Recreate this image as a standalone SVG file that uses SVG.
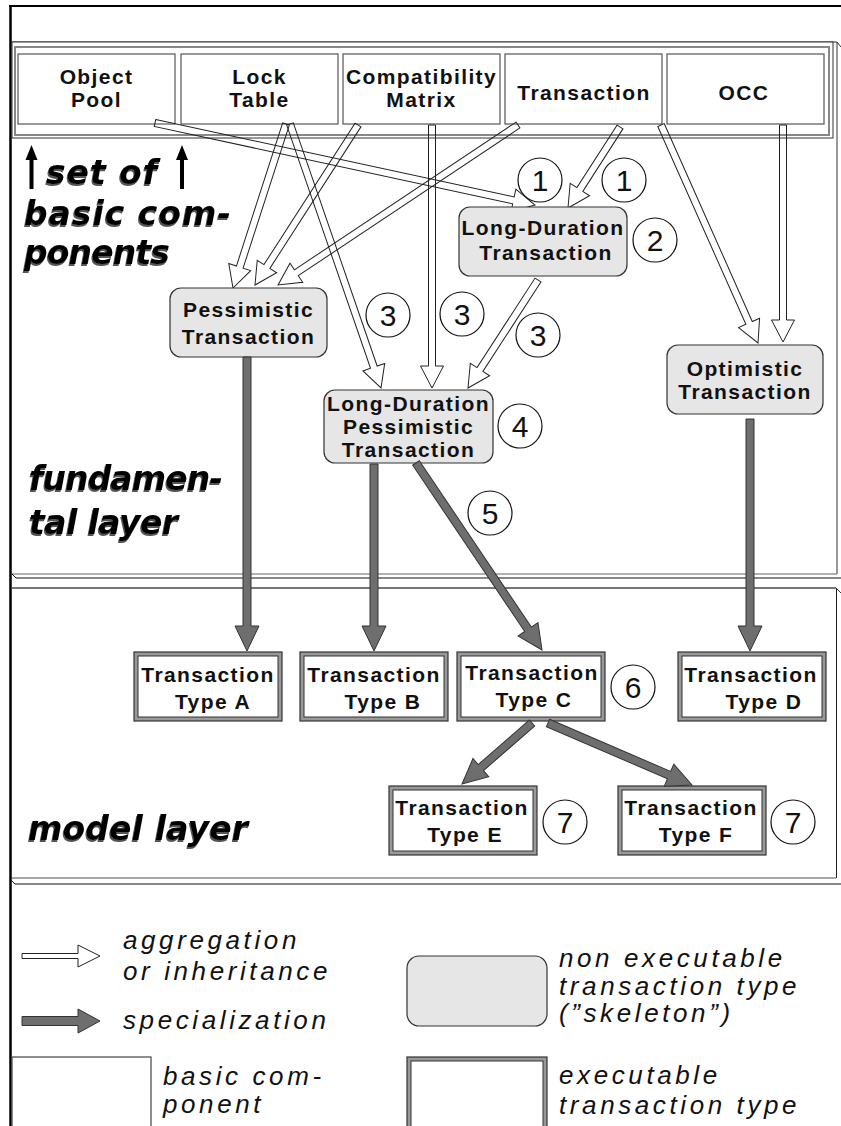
<svg xmlns="http://www.w3.org/2000/svg" width="841" height="1126" viewBox="0 0 841 1126">
<defs>
<style>
.comp rect{fill:#fff;stroke:#555;stroke-width:1.2}
.skel rect{fill:#e6e6e6;stroke:#333;stroke-width:1.2}
.exec .outer{fill:#999;stroke:#333;stroke-width:1.2}
.exec .inner{fill:#fff;stroke:#333;stroke-width:1}
.lbl{font-family:"Liberation Sans",Arial,sans-serif;font-weight:bold;font-size:21px;letter-spacing:1.4px;text-anchor:middle;fill:#111}
.num circle{fill:#fff;stroke:#111;stroke-width:1.2}
.num text{font-family:"Liberation Sans",Arial,sans-serif;font-size:30px;text-anchor:middle;fill:#111}
.agg{fill:none;stroke:#222;stroke-width:1}
.spec{fill:#6e6e6e;stroke:#333;stroke-width:1}
.layer{font-family:"DejaVu Sans",sans-serif;font-weight:bold;font-style:italic;font-size:33px;fill:#000;filter:url(#shade)}
.leg{font-family:"Liberation Sans",Arial,sans-serif;font-style:italic;font-size:26px;letter-spacing:3.6px;fill:#111}
</style>
<filter id="shade" x="-5%" y="-20%" width="110%" height="140%">
  <feOffset in="SourceAlpha" dx="-1.5" dy="1.5" result="off"/>
  <feFlood flood-color="#555"/>
  <feComposite in2="off" operator="in" result="sh"/>
  <feMerge><feMergeNode in="sh"/><feMergeNode in="SourceGraphic"/></feMerge>
</filter>
</defs>

<rect width="841" height="1126" fill="#fff"/>

<!-- outer frame and layer panels -->
<g id="frame" fill="none">
  <line x1="10.5" y1="5" x2="10.5" y2="1126" stroke="#000" stroke-width="2.5"/>
  <line x1="9" y1="6" x2="841" y2="6" stroke="#000" stroke-width="2"/>
  <path d="M12,42 H837 V574" stroke="#333"/>
  <line x1="837" y1="42" x2="841" y2="47" stroke="#333"/>
  <line x1="12" y1="574" x2="837" y2="574" stroke="#999" stroke-width="1.5"/>
  <path d="M12,574 L16,578 H841" stroke="#111"/>
  <line x1="12" y1="588" x2="836" y2="588" stroke="#777" stroke-width="2"/>
  <line x1="836" y1="588" x2="841" y2="593" stroke="#333"/>
  <line x1="836.5" y1="589" x2="836.5" y2="878" stroke="#222"/>
  <line x1="12" y1="878" x2="836" y2="878" stroke="#888" stroke-width="1.5"/>
  <path d="M11,880 L15,884 H841" stroke="#111"/>
</g>

<!-- basic components -->
<g id="component-set">
  <rect x="12" y="42" width="821" height="96" fill="#fff" stroke="#333"/>
  <rect x="15" y="47" width="814" height="88" fill="none" stroke="#888" stroke-width="2"/>
</g>
<g id="object-pool" class="comp">
  <rect x="18" y="54" width="157" height="70"/>
  <text class="lbl" x="96.5" y="84">Object</text>
  <text class="lbl" x="96.5" y="107">Pool</text>
</g>
<g id="lock-table" class="comp">
  <rect x="181" y="54" width="157" height="70"/>
  <text class="lbl" x="259.5" y="84">Lock</text>
  <text class="lbl" x="259.5" y="107">Table</text>
</g>
<g id="compatibility-matrix" class="comp">
  <rect x="343" y="54" width="157" height="70"/>
  <text class="lbl" x="421.5" y="84" letter-spacing="1">Compatibility</text>
  <text class="lbl" x="421.5" y="107">Matrix</text>
</g>
<g id="transaction" class="comp">
  <rect x="505" y="54" width="157" height="70"/>
  <text class="lbl" x="584" y="100">Transaction</text>
</g>
<g id="occ" class="comp">
  <rect x="667" y="54" width="157" height="70"/>
  <text class="lbl" x="744" y="100">OCC</text>
</g>

<!-- aggregation / inheritance connectors -->
<g id="aggregation-links" class="agg">
  <path transform="translate(155,123) rotate(12.18)" d="M0,-3.5 H366.7 V-11.5 L388.7,0 L366.7,11.5 V3.5 H0 Z"/>
  <path transform="translate(286,124) rotate(107.91)" d="M0,-3.5 H150.4 V-11.5 L172.4,0 L150.4,11.5 V3.5 H0 Z"/>
  <path transform="translate(358,125) rotate(122.77)" d="M0,-3.5 H168.3 V-11.5 L190.3,0 L168.3,11.5 V3.5 H0 Z"/>
  <path transform="translate(518,125) rotate(146.31)" d="M0,-3.5 H266.4 V-11.5 L288.4,0 L266.4,11.5 V3.5 H0 Z"/>
  <path transform="translate(290,124) rotate(70.98)" d="M0,-3.5 H257.2 V-11.5 L279.2,0 L257.2,11.5 V3.5 H0 Z"/>
  <path transform="translate(432,125) rotate(90)" d="M0,-3.5 H241 V-11.5 L263,0 L241,11.5 V3.5 H0 Z"/>
  <path transform="translate(620,127) rotate(122.7)" d="M0,-3.5 H74.3 V-11.5 L96.3,0 L74.3,11.5 V3.5 H0 Z"/>
  <path transform="translate(661,125) rotate(66.01)" d="M0,-3.5 H216.6 V-11.5 L238.6,0 L216.6,11.5 V3.5 H0 Z"/>
  <path transform="translate(783,125) rotate(90)" d="M0,-3.5 H195 V-11.5 L217,0 L195,11.5 V3.5 H0 Z"/>
  <path transform="translate(538,280) rotate(122.95)" d="M0,-3.5 H106.7 V-11.5 L128.7,0 L106.7,11.5 V3.5 H0 Z"/>
</g>

<!-- skeleton (non executable) transaction types -->
<g id="pessimistic-transaction" class="skel">
  <rect x="170" y="288" width="157" height="69" rx="11"/>
  <text class="lbl" x="248.5" y="317">Pessimistic</text>
  <text class="lbl" x="248.5" y="344">Transaction</text>
</g>
<g id="long-duration-transaction" class="skel">
  <rect x="459" y="207" width="168" height="69" rx="11"/>
  <text class="lbl" x="543" y="235">Long-Duration</text>
  <text class="lbl" x="546" y="260">Transaction</text>
</g>
<g id="optimistic-transaction" class="skel">
  <rect x="667" y="345" width="156" height="69" rx="11"/>
  <text class="lbl" x="745" y="376">Optimistic</text>
  <text class="lbl" x="745" y="399">Transaction</text>
</g>
<g id="long-duration-pessimistic-transaction" class="skel">
  <rect x="324" y="390" width="169" height="73" rx="11"/>
  <text class="lbl" x="408.5" y="411">Long-Duration</text>
  <text class="lbl" x="408.5" y="434">Pessimistic</text>
  <text class="lbl" x="408.5" y="457">Transaction</text>
</g>

<!-- executable transaction types -->
<g id="type-a" class="exec">
  <rect class="outer" x="134" y="652" width="148" height="69"/>
  <rect class="inner" x="138" y="656" width="140" height="61"/>
  <text class="lbl" x="208" y="682">Transaction</text>
  <text class="lbl" x="213" y="709">Type A</text>
</g>
<g id="type-b" class="exec">
  <rect class="outer" x="300" y="652" width="148" height="69"/>
  <rect class="inner" x="304" y="656" width="140" height="61"/>
  <text class="lbl" x="374" y="682">Transaction</text>
  <text class="lbl" x="383" y="709">Type B</text>
</g>
<g id="type-c" class="exec">
  <rect class="outer" x="457" y="652" width="148" height="69"/>
  <rect class="inner" x="461" y="656" width="140" height="61"/>
  <text class="lbl" x="532" y="680">Transaction</text>
  <text class="lbl" x="534" y="707">Type C</text>
</g>
<g id="type-d" class="exec">
  <rect class="outer" x="678" y="652" width="148" height="69"/>
  <rect class="inner" x="682" y="656" width="140" height="61"/>
  <text class="lbl" x="751" y="682">Transaction</text>
  <text class="lbl" x="764" y="709">Type D</text>
</g>
<g id="type-e" class="exec">
  <rect class="outer" x="389" y="786" width="148" height="69"/>
  <rect class="inner" x="393" y="790" width="140" height="61"/>
  <text class="lbl" x="462" y="815">Transaction</text>
  <text class="lbl" x="465" y="842">Type E</text>
</g>
<g id="type-f" class="exec">
  <rect class="outer" x="618" y="786" width="148" height="69"/>
  <rect class="inner" x="622" y="790" width="140" height="61"/>
  <text class="lbl" x="691" y="815">Transaction</text>
  <text class="lbl" x="696" y="842">Type F</text>
</g>

<!-- specialization connectors -->
<g id="specialization-links" class="spec">
  <path transform="translate(247,357) rotate(90)" d="M0,-4 H269 V-12 L294,0 L269,12 V4 H0 Z"/>
  <path transform="translate(374,464) rotate(90)" d="M0,-4 H162 V-12 L187,0 L162,12 V4 H0 Z"/>
  <path transform="translate(416,463) rotate(56.03)" d="M0,-4 H200.5 V-12 L225.5,0 L200.5,12 V4 H0 Z"/>
  <path transform="translate(750,419) rotate(90)" d="M0,-4 H207 V-12 L232,0 L207,12 V4 H0 Z"/>
  <path transform="translate(532,723) rotate(138.93)" d="M0,-4 H67.85 V-12 L92.85,0 L67.85,12 V4 H0 Z"/>
  <path transform="translate(548,723) rotate(23.29)" d="M0,-4 H131.8 V-12 L156.8,0 L131.8,12 V4 H0 Z"/>
</g>

<!-- numbered development steps -->
<g id="steps" class="num">
  <circle cx="540" cy="180" r="22"/><text x="540" y="191">1</text>
  <circle cx="624" cy="180" r="22"/><text x="624" y="191">1</text>
  <circle cx="655" cy="240" r="22"/><text x="655" y="251">2</text>
  <circle cx="388" cy="315" r="22"/><text x="388" y="326">3</text>
  <circle cx="462" cy="314" r="22"/><text x="462" y="325">3</text>
  <circle cx="538" cy="335" r="22"/><text x="538" y="346">3</text>
  <circle cx="520" cy="426" r="22"/><text x="520" y="437">4</text>
  <circle cx="490" cy="513" r="22"/><text x="490" y="524">5</text>
  <circle cx="633" cy="687" r="22"/><text x="633" y="698">6</text>
  <circle cx="565" cy="822" r="22"/><text x="565" y="833">7</text>
  <circle cx="793" cy="822" r="22"/><text x="793" y="833">7</text>
</g>

<!-- layer captions -->
<g id="layer-captions">
  <g fill="#000">
    <rect x="29.5" y="158" width="4" height="31"/>
    <path d="M31.5,145 L37.5,160 H25.5 Z"/>
    <rect x="180" y="158" width="4" height="31"/>
    <path d="M182,145 L188,160 H176 Z"/>
  </g>
  <text class="layer" x="46" y="184" textLength="111" lengthAdjust="spacing">set of</text>
  <text class="layer" x="24" y="225" textLength="207" lengthAdjust="spacing">basic com-</text>
  <text class="layer" x="24" y="264" textLength="146" lengthAdjust="spacing">ponents</text>
  <text class="layer" x="29" y="490" textLength="194" lengthAdjust="spacing">fundamen-</text>
  <text class="layer" x="29" y="534" textLength="149" lengthAdjust="spacing">tal layer</text>
  <text class="layer" x="28" y="840" textLength="220" lengthAdjust="spacing">model layer</text>
</g>

<!-- legend -->
<g id="legend">
  <path d="M22,953.5 H78 V945 L100,956 L78,967 V958.5 H22 Z" fill="#fff" stroke="#222"/>
  <text class="leg" x="123" y="949">aggregation</text>
  <text class="leg" x="123" y="980">or inheritance</text>
  <path d="M22,1016.5 H78 V1009 L100,1021 L78,1033 V1025.5 H22 Z" class="spec"/>
  <text class="leg" x="123" y="1029">specialization</text>
  <rect x="12" y="1057" width="139" height="80" fill="#fff" stroke="#444" stroke-width="1.2"/>
  <text class="leg" x="163" y="1085">basic com-</text>
  <text class="leg" x="163" y="1113">ponent</text>
  <rect x="407" y="956" width="140" height="70" rx="12" fill="#e6e6e6" stroke="#333" stroke-width="1.2"/>
  <text class="leg" x="559" y="967">non executable</text>
  <text class="leg" x="559" y="995">transaction type</text>
  <text class="leg" x="559" y="1022">(”skeleton”)</text>
  <g class="exec">
    <rect class="outer" x="407" y="1057" width="140" height="80"/>
    <rect class="inner" x="411" y="1061" width="132" height="72"/>
  </g>
  <text class="leg" x="559" y="1084">executable</text>
  <text class="leg" x="559" y="1114">transaction type</text>
</g>
</svg>
